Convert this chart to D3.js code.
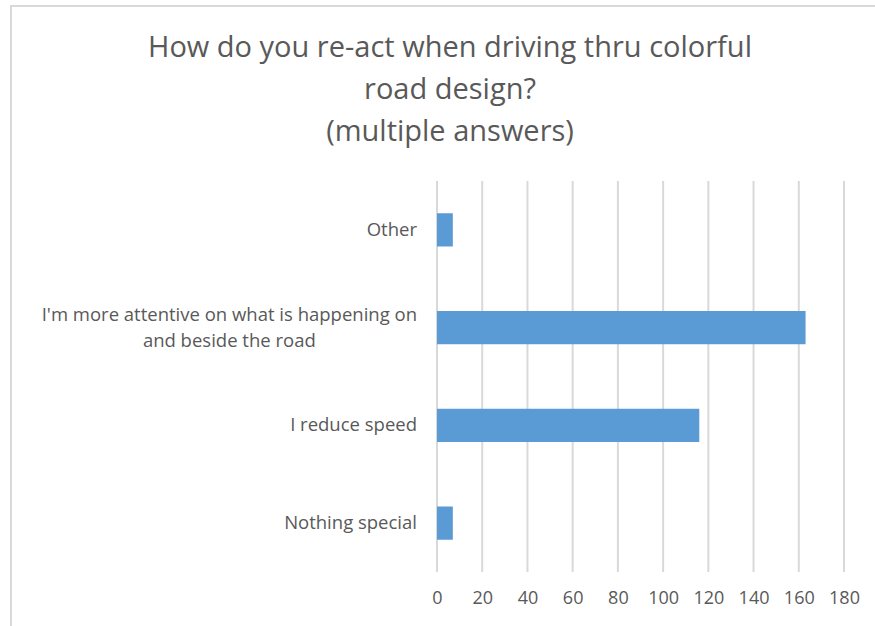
<!DOCTYPE html>
<html>
<head>
<meta charset="utf-8">
<script src="https://cdn.jsdelivr.net/npm/d3@7"></script>
<style>
  body { margin: 0; background: #fff; }
  svg { display: block; font-family: "Open Sans", "Liberation Sans", sans-serif; }
</style>
</head>
<body>
<svg id="chart" width="875" height="626"></svg>
<script>
var titleLines = ["How do you re-act when driving thru colorful", "road design?", "(multiple answers)"];
var categories = ["Other", "I'm more attentive on what is happening on|and beside the road", "I reduce speed", "Nothing special"];
var values = [7, 163, 116, 7];
var xTicks = [0, 20, 40, 60, 80, 100, 120, 140, 160, 180];

var svg = d3.select("#chart");
var plotL = 437, plotR = 844, plotT = 181, plotB = 572;

// chart frame (runs off the picture on the right and bottom)
svg.append("rect")
    .attr("x", 11).attr("y", 6)
    .attr("width", 900).attr("height", 700)
    .attr("fill", "white")
    .attr("stroke", "#d9d9d9")
    .attr("stroke-width", 2);

var title = svg.append("text")
    .attr("text-anchor", "middle")
    .attr("fill", "#595959")
    .style("font-size", "29px");
titleLines.forEach(function(t, i){
    title.append("tspan")
        .attr("x", 450)
        .attr("y", 57 + i * 42)
        .text(t);
});

var x = d3.scaleLinear().domain([0, 180]).range([plotL, plotR]);
var y = d3.scaleBand().domain(categories).range([plotT, plotB]).paddingInner(0.66).paddingOuter(0.33);

// vertical gridlines
svg.append("g")
    .selectAll("line")
    .data(xTicks)
    .enter().append("line")
    .attr("x1", function(d){ return x(d); })
    .attr("x2", function(d){ return x(d); })
    .attr("y1", plotT)
    .attr("y2", plotB)
    .attr("stroke", "#d9d9d9")
    .attr("stroke-width", 2);

var xAxis = svg.append("g")
    .attr("transform", "translate(0," + plotB + ")")
    .call(d3.axisBottom(x).tickValues(xTicks).tickSize(0).tickPadding(19));
xAxis.select(".domain").remove();
xAxis.selectAll("text")
    .attr("fill", "#595959")
    .style("font-size", "18px")
    .style("font-family", "\"Open Sans\", sans-serif");

svg.append("g")
    .selectAll("rect")
    .data(values)
    .enter().append("rect")
    .attr("x", x(0))
    .attr("y", function(d, i){ return y(categories[i]); })
    .attr("width", function(d){ return x(d) - x(0); })
    .attr("height", y.bandwidth())
    .attr("fill", "#5b9bd5");

// category labels, right aligned, wrapped lines centred on each other
categories.forEach(function(c){
    var lines = c.split("|");
    var cy = y(c) + y.bandwidth() / 2;
    var g = svg.append("text")
        .attr("fill", "#595959")
        .style("font-size", "18.5px");
    lines.forEach(function(l, j){
        g.append("tspan")
            .attr("y", cy + 6 + (j - (lines.length - 1) / 2) * 26)
            .text(l);
    });
    // right align the block, centre shorter lines under the longest
    var widths = [];
    g.selectAll("tspan").each(function(){ widths.push(this.getComputedTextLength()); });
    var maxW = d3.max(widths);
    g.selectAll("tspan").attr("x", function(d, j){ return 417 - maxW + (maxW - widths[j]) / 2; });
});
</script>
</body>
</html>
